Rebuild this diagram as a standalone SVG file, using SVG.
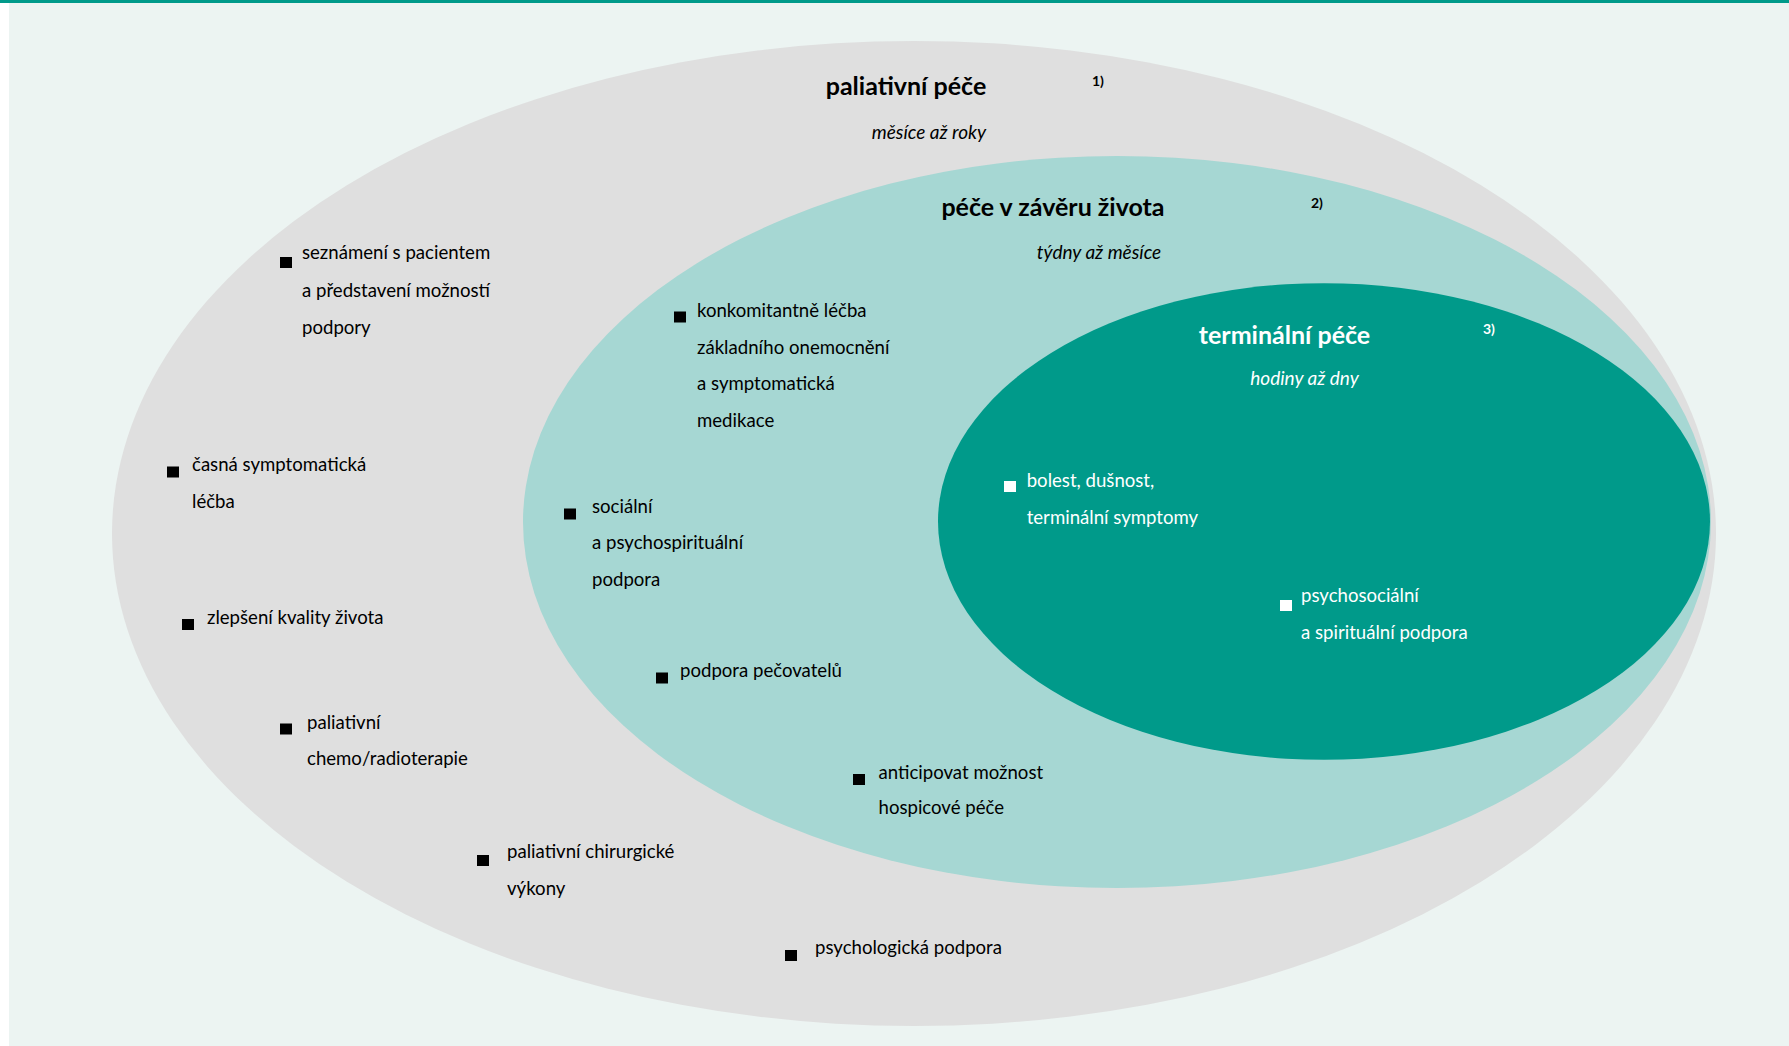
<svg xmlns="http://www.w3.org/2000/svg" width="1789" height="1046" viewBox="0 0 1789 1046">
<style>
text{font-family:Lato,"Open Sans","Liberation Sans",sans-serif;}
.t{font-size:18.6px;fill:#000;}
.tw{font-size:18.6px;fill:#fff;}
.h{font-size:25px;font-weight:bold;text-anchor:middle;}
.s{font-size:19px;font-style:italic;text-anchor:middle;}
.n{font-size:14px;font-weight:bold;}
.b{fill:#000;}
.bw{fill:#fff;}
</style>
<rect x="0" y="0" width="1789" height="1046" fill="#ffffff"/>
<rect x="9" y="0" width="1780" height="1046" fill="#ECF4F2"/>
<rect x="0" y="0" width="1789" height="3" fill="#009A8A"/>

<g id="paliativni-pece">
<ellipse cx="914" cy="533.5" rx="802" ry="492.5" fill="#DFDFDF"/>
<text class="h" x="906" y="95" fill="#000">paliativní péče</text>
<text class="n" x="1092" y="86" fill="#000">1)</text>
<text class="s" x="929" y="139" fill="#000">měsíce až roky</text>
</g>
<g id="pece-v-zaveru-zivota">
<ellipse cx="1117" cy="522" rx="594" ry="366" fill="#A6D7D3"/>
<text class="h" x="1053" y="216" fill="#000">péče v závěru života</text>
<text class="n" x="1311" y="208" fill="#000">2)</text>
<text class="s" x="1099" y="259" fill="#000">týdny až měsíce</text>
</g>
<g id="terminalni-pece">
<ellipse cx="1324" cy="521.5" rx="386" ry="238.3" fill="#009A8A"/>
<text class="h" x="1284.5" y="344" fill="#fff">terminální péče</text>
<text class="n" x="1483" y="334" fill="#fff">3)</text>
<text class="s" x="1304.5" y="385" fill="#fff">hodiny až dny</text>
</g>

<g id="item-seznameni">
<rect class="b" x="280" y="257" width="12" height="11"/>
<text class="t" x="302" y="259">seznámení s pacientem</text>
<text class="t" x="302" y="296.5">a představení možností</text>
<text class="t" x="302" y="334">podpory</text>
</g>
<g id="item-casna">
<rect class="b" x="167" y="466.5" width="12" height="11"/>
<text class="t" x="192" y="471">časná symptomatická</text>
<text class="t" x="192" y="508">léčba</text>
</g>
<g id="item-zlepseni">
<rect class="b" x="182" y="619" width="12" height="11"/>
<text class="t" x="207" y="623.5">zlepšení kvality života</text>
</g>
<g id="item-chemo">
<rect class="b" x="280" y="723.5" width="12" height="11"/>
<text class="t" x="307" y="728.5">paliativní</text>
<text class="t" x="307" y="765">chemo/radioterapie</text>
</g>
<g id="item-chirurgicke">
<rect class="b" x="477" y="855" width="12" height="11"/>
<text class="t" x="507" y="858">paliativní chirurgické</text>
<text class="t" x="507" y="894.5">výkony</text>
</g>
<g id="item-psychologicka">
<rect class="b" x="785" y="950" width="12" height="11"/>
<text class="t" x="815" y="954">psychologická podpora</text>
</g>

<g id="item-konkomitantne">
<rect class="b" x="674" y="311.5" width="12" height="11"/>
<text class="t" x="697" y="316.7">konkomitantně léčba</text>
<text class="t" x="697" y="353.5">základního onemocnění</text>
<text class="t" x="697" y="390">a symptomatická</text>
<text class="t" x="697" y="426.7">medikace</text>
</g>
<g id="item-socialni">
<rect class="b" x="564" y="508.5" width="12" height="11"/>
<text class="t" x="592" y="513">sociální</text>
<text class="t" x="592" y="549">a psychospirituální</text>
<text class="t" x="592" y="585.6">podpora</text>
</g>
<g id="item-pecovatelu">
<rect class="b" x="656" y="672.5" width="12" height="11"/>
<text class="t" x="680" y="676.7">podpora pečovatelů</text>
</g>
<g id="item-anticipovat">
<rect class="b" x="853" y="774" width="12" height="11"/>
<text class="t" x="878.5" y="778.6">anticipovat možnost</text>
<text class="t" x="878.5" y="814.2">hospicové péče</text>
</g>

<g id="item-bolest">
<rect class="bw" x="1004" y="481" width="12" height="11"/>
<text class="tw" x="1026.7" y="487">bolest, dušnost,</text>
<text class="tw" x="1026.7" y="523.5">terminální symptomy</text>
</g>
<g id="item-psychosocialni">
<rect class="bw" x="1280" y="600" width="12" height="11"/>
<text class="tw" x="1301" y="602">psychosociální</text>
<text class="tw" x="1301" y="639">a spirituální podpora</text>
</g>
</svg>
